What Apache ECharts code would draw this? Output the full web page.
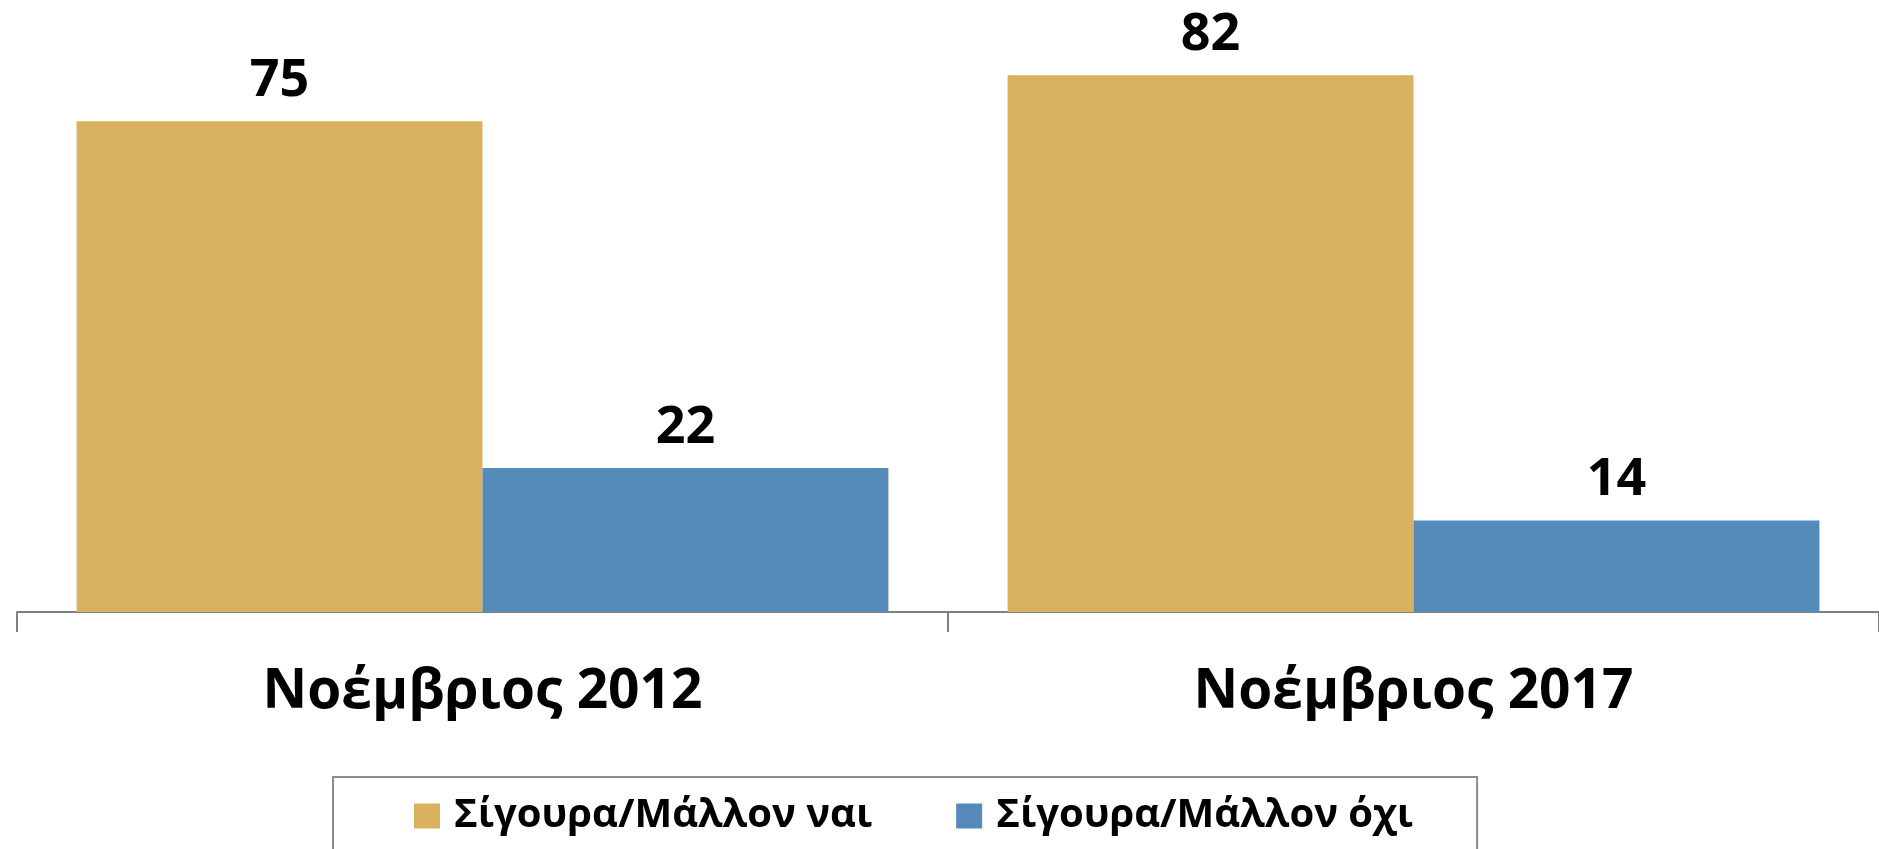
<!DOCTYPE html>
<html>
<head>
<meta charset="utf-8">
<script src="https://cdn.jsdelivr.net/npm/echarts@6/dist/echarts.min.js"></script>
<style>
html,body{margin:0;padding:0;background:#fff;}
#chart{width:1879px;height:849px;}
</style>
</head>
<body>
<div id="chart"></div>
<script>
const categories = ['Νοέμβριος 2012', 'Νοέμβριος 2017'];
const seriesNames = ['Σίγουρα/Μάλλον ναι', 'Σίγουρα/Μάλλον όχι'];
const yesValues = [75, 82];
const noValues = [22, 14];
const colors = ['#D9B25F', '#558BBA'];

const FONT = '"Open Sans", sans-serif';
const chart = echarts.init(document.getElementById('chart'), null, {renderer: 'canvas'});

const labelCfg = {
  show: true,
  position: 'top',
  distance: 14,
  color: '#000',
  fontFamily: FONT,
  fontWeight: 'bold',
  fontSize: 52
};

chart.setOption({
  animation: false,
  backgroundColor: '#ffffff',
  grid: {left: 17, right: 0, top: 23, bottom: 237, containLabel: false},
  legend: {
    data: seriesNames,
    left: 333,
    top: 777,
    padding: [19, 64, 60, 81],
    borderColor: '#8c8c8c',
    borderWidth: 2,
    itemWidth: 26,
    itemHeight: 25,
    itemGap: 84,
    icon: 'rect',
    textStyle: {fontFamily: FONT, fontWeight: 'bold', fontSize: 40, color: '#000', padding: [0, 0, 0, 9]}
  },
  xAxis: {
    type: 'category',
    data: categories,
    axisLine: {lineStyle: {color: '#808080', width: 2}},
    axisTick: {show: true, length: 20, lineStyle: {color: '#808080', width: 2}},
    axisLabel: {fontFamily: FONT, fontWeight: 'bold', fontSize: 55, color: '#000', margin: 53}
  },
  yAxis: {
    type: 'value',
    min: 0,
    max: 90,
    show: false,
    splitLine: {show: false}
  },
  series: [
    {
      name: seriesNames[0],
      type: 'bar',
      data: yesValues,
      itemStyle: {color: colors[0]},
      barGap: '0%',
      barCategoryGap: '12.8%',
      label: labelCfg
    },
    {
      name: seriesNames[1],
      type: 'bar',
      data: noValues,
      itemStyle: {color: colors[1]},
      barGap: '0%',
      barCategoryGap: '12.8%',
      label: labelCfg
    }
  ]
});
</script>
</body>
</html>
